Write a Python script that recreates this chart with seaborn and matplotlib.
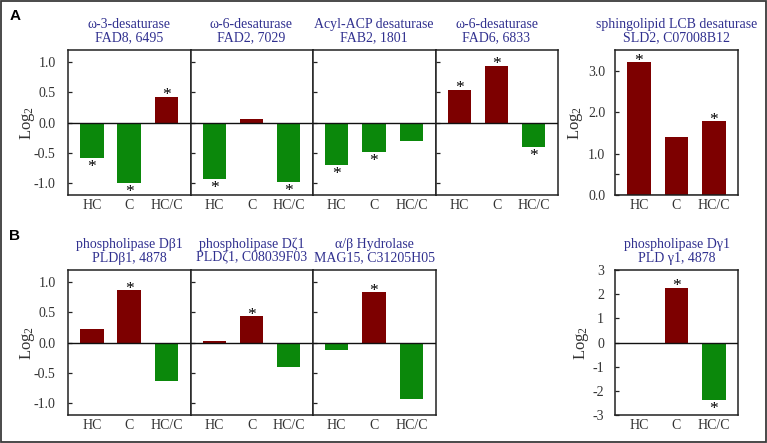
import matplotlib
matplotlib.use("Agg")
import matplotlib.pyplot as plt
import seaborn as sns
import pandas as pd
from matplotlib.ticker import FixedLocator

# ---------------- data ----------------
categories = ["HC", "C", "HC/C"]

fad8 = [-0.58, -1.00, 0.43]
fad8_stars = [True, True, True]
fad2 = [-0.93, 0.05, -0.98]
fad2_stars = [True, False, True]
fab2 = [-0.70, -0.49, -0.30]
fab2_stars = [True, True, False]
fad6 = [0.54, 0.94, -0.40]
fad6_stars = [True, True, True]
sld2 = [3.21, 1.41, 1.78]
sld2_stars = [True, False, True]

pldb1 = [0.23, 0.87, -0.64]
pldb1_stars = [False, True, False]
pldz1 = [0.02, 0.44, -0.40]
pldz1_stars = [False, True, False]
mag15 = [-0.12, 0.83, -0.94]
mag15_stars = [False, True, False]
pldg1 = [-0.05, 2.27, -2.37]
pldg1_stars = [False, True, True]

titles = [
    "ω-3-desaturase\nFAD8, 6495",
    "ω-6-desaturase\nFAD2, 7029",
    "Acyl-ACP desaturase\nFAB2, 1801",
    "ω-6-desaturase\nFAD6, 6833",
    "sphingolipid LCB desaturase\nSLD2, C07008B12",
    "phospholipase Dβ1\nPLDβ1, 4878",
    "phospholipase Dζ1\nPLDζ1, C08039F03",
    "α/β Hydrolase\nMAG15, C31205H05",
    "phospholipase Dγ1\nPLD γ1, 4878",
]

small_ticks = [-1.0, -0.5, 0.0, 0.5, 1.0]
small_ticklabels = ["-1.0", "-0.5", "0.0", "0.5", "1.0"]
sld2_ticks = [0, 1, 2, 3]
sld2_ticklabels = ["0.0", "1.0", "2.0", "3.0"]
pldg1_ticks = [-3, -2, -1, 0, 1, 2, 3]
pldg1_ticklabels = ["-3", "-2", "-1", "0", "1", "2", "3"]

RED = "#7d0000"
GREEN = "#0b880b"
TITLE_COLOR = "#30308f"
TEXT_COLOR = "#333333"

# ---------------- style ----------------
sns.set_theme(style="white")
plt.rcParams["font.family"] = ["Liberation Serif", "DejaVu Serif"]
plt.rcParams["mathtext.fontset"] = "custom"
plt.rcParams["mathtext.rm"] = "Liberation Serif"
plt.rcParams["mathtext.it"] = "Liberation Serif:italic"

W, H = 767, 443
fig = plt.figure(figsize=(W / 100, H / 100), dpi=100)
fig.patch.set_facecolor("white")


def make_ax(x0, x1, y0, y1):
    return fig.add_axes([x0 / W, 1 - y1 / H, (x1 - x0) / W, (y1 - y0) / H])


def draw_panel(ax, vals, stars, title, ylim, ticks, ticklabels, show_labels,
               ylabel_x=None, minor=None, ypad=9):
    df = pd.DataFrame({"cat": categories, "val": vals})
    colors = [RED if v > 0 else GREEN for v in vals]
    sns.barplot(data=df, x="cat", y="val", hue="cat", palette=colors,
                legend=False, width=0.63, saturation=1, ax=ax, linewidth=0)
    ax.axhline(0, color="#111111", lw=1.0, zorder=3)
    ax.set_xlim(-0.64, 2.64)
    ax.set_ylim(*ylim)
    ax.set_xlabel("")
    ax.set_ylabel("")
    ax.yaxis.set_major_locator(FixedLocator(ticks))
    if show_labels:
        ax.set_yticklabels(ticklabels)
    else:
        ax.set_yticklabels([])
    if minor is not None:
        ax.yaxis.set_minor_locator(FixedLocator(minor))
    ax.tick_params(axis="y", direction="in", length=3, width=0.9,
                   color="#222222", left=True, labelsize=10,
                   labelcolor=TEXT_COLOR, pad=ypad, which="both")
    ax.tick_params(axis="x", length=0, pad=3, labelsize=10,
                   labelcolor=TEXT_COLOR)
    for s in ax.spines.values():
        s.set_color("#222222")
        s.set_linewidth(1.1)
    ax.set_title(title, fontsize=10, color=TITLE_COLOR, pad=6,
                 linespacing=1.1)
    if ylabel_x is not None:
        ax.set_ylabel(r"Log$_2$", fontsize=12, color=TEXT_COLOR)
        ax.yaxis.set_label_coords(ylabel_x, 0.5)
    for i, (v, st) in enumerate(zip(vals, stars)):
        if st:
            off = 1.0 if v > 0 else -6.6
            ax.annotate("*", xy=(i, v), xytext=(0, off),
                        textcoords="offset points", ha="center",
                        va="center", fontsize=12.5, color="black")


# top row
top_y = (50, 195)
xs = [68, 190.5, 312.5, 435.5, 557.5]
top_vals = [(fad8, fad8_stars), (fad2, fad2_stars), (fab2, fab2_stars),
            (fad6, fad6_stars)]
for k, (vals, stars) in enumerate(top_vals):
    ax = make_ax(xs[k], xs[k + 1], *top_y)
    draw_panel(ax, vals, stars, titles[k], (-1.2, 1.2), small_ticks,
               small_ticklabels, k == 0, -0.25 if k == 0 else None)

ax = make_ax(615, 738, *top_y)
draw_panel(ax, sld2, sld2_stars, titles[4], (0, 3.5), sld2_ticks,
           sld2_ticklabels, True, -0.245, minor=[0.5], ypad=7)

# bottom row
bot_y = (270, 415)
bot_vals = [(pldb1, pldb1_stars), (pldz1, pldz1_stars), (mag15, mag15_stars)]
for k, (vals, stars) in enumerate(bot_vals):
    ax = make_ax(xs[k], xs[k + 1], *bot_y)
    draw_panel(ax, vals, stars, titles[5 + k], (-1.2, 1.2), small_ticks,
               small_ticklabels, k == 0, -0.25 if k == 0 else None)

ax = make_ax(615, 738, *bot_y)
draw_panel(ax, pldg1, pldg1_stars, titles[8], (-3, 3), pldg1_ticks,
           pldg1_ticklabels, True, -0.196, ypad=8)

# panel letters
fig.text(15 / W, 1 - 16 / H, "A", fontsize=11, fontweight="bold",
         family="Liberation Sans", ha="center", va="center", color="black")
fig.text(15 / W, 1 - 236 / H, "B", fontsize=11, fontweight="bold",
         family="Liberation Sans", ha="center", va="center", color="black")

# outer frame
fig.patches.append(plt.Rectangle((0.7 / W, 0.7 / H), 1 - 1.4 / W,
                                 1 - 1.4 / H, transform=fig.transFigure,
                                 fill=False, lw=1.3, ec="#3a3a3a"))

fig.savefig("out.png", dpi=100)
